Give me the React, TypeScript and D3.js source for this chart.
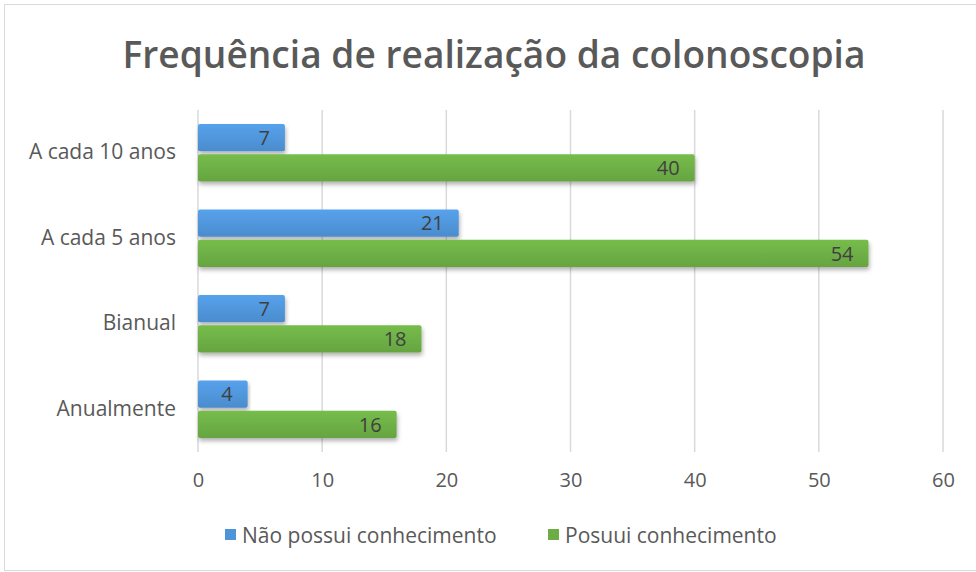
import * as d3 from 'd3';
import React, {useEffect, useRef} from 'react';

const categories = ["A cada 10 anos", "A cada 5 anos", "Bianual", "Anualmente"];
const seriesNames = ["Não possui conhecimento", "Posuui conhecimento"];
const naoPossui = [7, 21, 7, 4];
const possui = [40, 54, 18, 16];
const xTicks = [0, 10, 20, 30, 40, 50, 60];

const colors = ["#4f94d8", "#6cad45"];
const font = "'Open Sans', sans-serif";

export default function App() {
    const ref = useRef<SVGSVGElement | null>(null);

    useEffect(() => {
        const svg = d3.select(ref.current);
        svg.selectAll("*").remove();

        const W = 976, H = 572;
        const margin = {l: 198, r: 33, t: 110, b: 120};
        const cw = W - margin.l - margin.r, ch = H - margin.t - margin.b;

        // gradients and shadow
        const defs = svg.append("defs");
        colors.forEach((c, i) => {
            const g = defs.append("linearGradient").attr("id", `grad${i}`)
                .attr("x1", 0).attr("x2", 0).attr("y1", 0).attr("y2", 1);
            g.append("stop").attr("offset", "0%").attr("stop-color", d3.color(c)!.brighter(0.25).toString());
            g.append("stop").attr("offset", "100%").attr("stop-color", d3.color(c)!.darker(0.15).toString());
        });
        const f = defs.append("filter").attr("id", "shadow").attr("x", "-5%").attr("y", "-20%")
            .attr("width", "110%").attr("height", "160%");
        f.append("feDropShadow").attr("dx", 1).attr("dy", 3).attr("stdDeviation", 2)
            .attr("flood-color", "#000").attr("flood-opacity", 0.3);

        svg.append("rect").attr("x", 4.5).attr("y", 4.5).attr("width", W - 4).attr("height", H - 6)
            .attr("fill", "#fff").attr("stroke", "#d9d9d9");

        svg.append("text").text("Frequência de realização da colonoscopia")
            .attr("x", 494).attr("y", 68).attr("text-anchor", "middle")
            .attr("textLength", 743).attr("lengthAdjust", "spacingAndGlyphs")
            .style("font-family", font).style("font-weight", 600).style("font-size", "37px")
            .attr("fill", "#595959");

        const x = d3.scaleLinear().domain([0, 60]).range([0, cw]);
        const y = d3.scaleBand().domain(categories).range([0, ch]).paddingInner(0).paddingOuter(0);
        const yIn = d3.scaleBand().domain(seriesNames).range([14, y.bandwidth() - 14]).paddingInner(0.1);

        const chart = svg.append("g").attr("transform", `translate(${margin.l},${margin.t})`);

        chart.selectAll(".grid").data(xTicks).enter().append("line")
            .attr("x1", d => x(d)).attr("x2", d => x(d)).attr("y1", 0).attr("y2", ch)
            .attr("stroke", "#d9d9d9").attr("stroke-width", 1.5);

        const xAxis = chart.append("g").attr("transform", `translate(0,${ch})`)
            .call(d3.axisBottom(x).tickValues(xTicks).tickSize(0).tickPadding(21));
        xAxis.select(".domain").remove();
        xAxis.selectAll("text").style("font-family", font).style("font-size", "20px").attr("fill", "#595959");

        const yAxis = chart.append("g")
            .call(d3.axisLeft(y).tickSize(0).tickPadding(22));
        yAxis.select(".domain").remove();
        yAxis.selectAll("text").style("font-family", font).style("font-size", "21px").attr("fill", "#595959");

        const rows = categories.map((c, i) => ({cat: c, values: [naoPossui[i], possui[i]]}));

        const group = chart.selectAll(".cat").data(rows).enter().append("g")
            .attr("transform", d => `translate(0,${y(d.cat)})`);

        const bars = group.selectAll(".bar").data(d => d.values.map((v, i) => ({v, i})))
            .enter().append("g");

        bars.append("rect")
            .attr("x", x(0)).attr("y", d => yIn(seriesNames[d.i])!)
            .attr("width", d => x(d.v) - x(0)).attr("height", yIn.bandwidth())
            .attr("rx", 2)
            .attr("fill", d => `url(#grad${d.i})`).attr("filter", "url(#shadow)");

        bars.append("text").text(d => d.v)
            .attr("x", d => x(d.v) - 15).attr("y", d => yIn(seriesNames[d.i])! + yIn.bandwidth() / 2)
            .attr("dy", "0.36em").attr("text-anchor", "end")
            .style("font-family", font).style("font-size", "20px").attr("fill", "#404040");

        const legend = svg.append("g").attr("transform", `translate(0,535)`);
        const legendX = [225, 548];
        seriesNames.forEach((s, i) => {
            legend.append("rect").attr("x", legendX[i]).attr("y", -6).attr("width", 11).attr("height", 11)
                .attr("fill", colors[i]);
            legend.append("text").text(s).attr("x", legendX[i] + 17).attr("y", 0).attr("dy", "0.36em")
                .style("font-family", font).style("font-size", "21px").attr("fill", "#595959");
        });
    }, []);

    return (
        <div>
            <svg ref={ref} width={976} height={572} style={{display: "block", position: "absolute", left: 0, top: 0}} />
        </div>
    );
}
